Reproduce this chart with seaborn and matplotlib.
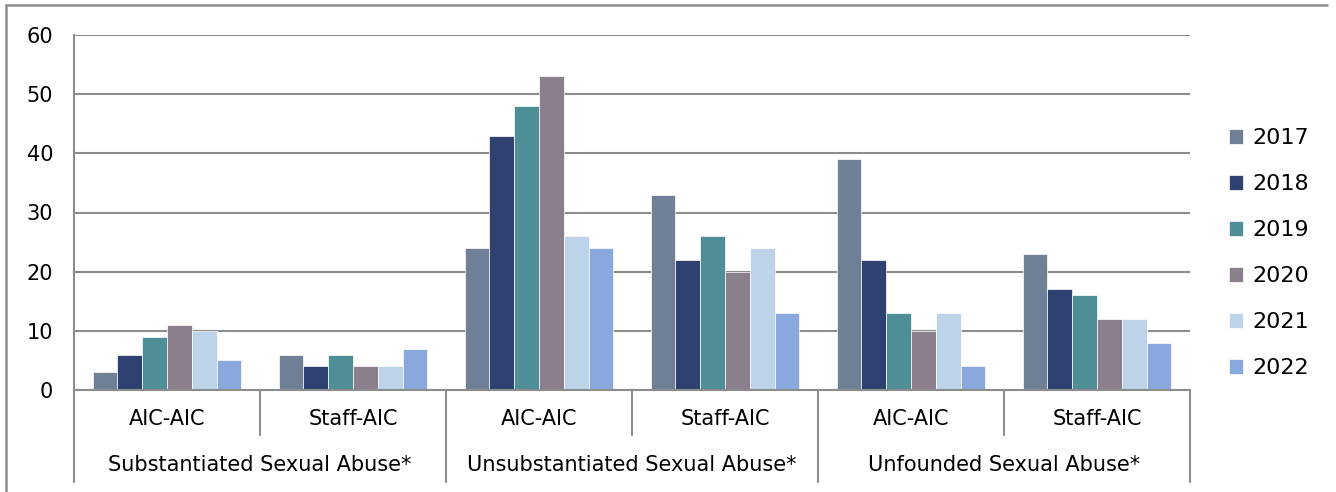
import pandas as pd
import matplotlib.pyplot as plt
import seaborn as sns
from matplotlib.lines import Line2D

groups = ["Substantiated Sexual Abuse*", "Unsubstantiated Sexual Abuse*", "Unfounded Sexual Abuse*"]
subs = ["AIC-AIC", "Staff-AIC"]
years = ["2017", "2018", "2019", "2020", "2021", "2022"]

# one list per year, order: Subst AIC, Subst Staff, Unsubst AIC, Unsubst Staff, Unfounded AIC, Unfounded Staff
v2017 = [3, 6, 24, 33, 39, 23]
v2018 = [6, 4, 43, 22, 22, 17]
v2019 = [9, 6, 48, 26, 13, 16]
v2020 = [11, 4, 53, 20, 10, 12]
v2021 = [10, 4, 26, 24, 13, 12]
v2022 = [5, 7, 24, 13, 4, 8]

colors = ["#6F7F96", "#2F4170", "#4E8E96", "#8B7F8D", "#BDD3E9", "#89A8DD"]

series = [v2017, v2018, v2019, v2020, v2021, v2022]
keys = [f"{g}|{s}" for g in groups for s in subs]

rows = []
for year, vals in zip(years, series):
    for key, v in zip(keys, vals):
        rows.append({"cat": key, "year": year, "count": v})
df = pd.DataFrame(rows)

sns.set_style("white")
plt.rcParams["font.family"] = ["DejaVu Sans"]
plt.rcParams["text.color"] = "black"
plt.rcParams["xtick.color"] = "black"
plt.rcParams["ytick.color"] = "black"

fig = plt.figure(figsize=(13.36, 4.92), dpi=100)
ax = fig.add_axes([74 / 1336, 1 - 390 / 492, (1190 - 74) / 1336, 355 / 492])

sns.barplot(
    data=df, x="cat", y="count", hue="year", order=keys, hue_order=years,
    palette=colors, width=0.8, edgecolor="white", linewidth=0.5,
    saturation=1, ax=ax
)

grid_c = "#8C8C8C"
ax.set_ylim(0, 60)
ax.set_xlim(-0.5, 5.5)
ax.set_yticks(range(0, 61, 10))
ax.yaxis.grid(True, color=grid_c, linewidth=1.5)
ax.set_axisbelow(True)
ax.tick_params(axis="y", length=7, width=1.5, color=grid_c, labelcolor="black", labelsize=15, pad=8)
ax.tick_params(axis="x", length=0, labelcolor="black", labelsize=15, pad=14)
ax.set_xticks(range(len(keys)))
ax.set_xticklabels([k.split("|")[1] for k in keys])
ax.set_xlabel("")
ax.set_ylabel("")
for side in ["top", "right"]:
    ax.spines[side].set_visible(False)
ax.spines["left"].set_color(grid_c)
ax.spines["left"].set_linewidth(1.5)
ax.spines["bottom"].set_color(grid_c)
ax.spines["bottom"].set_linewidth(1.5)

# separators below the axis
trans = ax.get_xaxis_transform()
for i in range(7):
    x = i - 0.5
    low = -0.127 if i % 2 == 1 else -0.259
    ax.plot([x, x], [0, low], color=grid_c, lw=1.5, transform=trans, clip_on=False)

for j, g in enumerate(groups):
    ax.text(2 * j + 0.5, -0.21, g, transform=trans, ha="center", va="center",
            fontsize=15, color="black")

leg = ax.legend(
    loc="upper left", bbox_to_anchor=(1229 / 1336, 1 - 128 / 492),
    bbox_transform=fig.transFigure, frameon=False, fontsize=16,
    handlelength=0.65, handleheight=0.65, handletextpad=0.4, labelspacing=1.17,
    borderaxespad=0, borderpad=0
)
for t in leg.get_texts():
    t.set_color("black")

# outer frame of the chart area: only left and top edges are visible
x0, y0 = 6 / 1336, 1 - 5 / 492
fig.add_artist(Line2D([x0, x0], [0.0, y0], transform=fig.transFigure,
                      color=grid_c, linewidth=1.8, solid_capstyle="projecting"))
fig.add_artist(Line2D([x0, 0.994], [y0, y0], transform=fig.transFigure,
                      color=grid_c, linewidth=1.8, solid_capstyle="butt"))

plt.savefig("out.png", dpi=100)
